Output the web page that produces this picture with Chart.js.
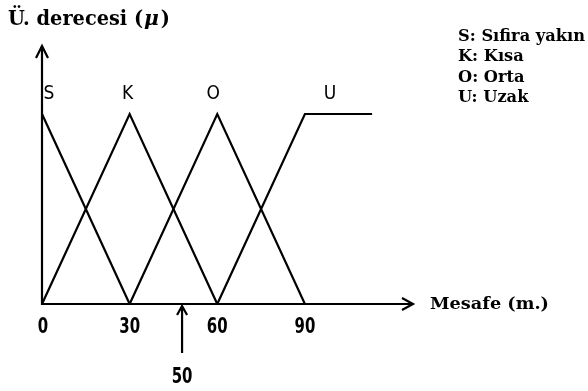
<!DOCTYPE html>
<html><head><meta charset="utf-8">
<script src="https://cdn.jsdelivr.net/npm/chart.js@4.4.1/dist/chart.umd.min.js"></script>
<style>html,body{margin:0;padding:0;background:#fff}#c{display:block}</style>
</head><body>
<canvas id="c" width="588" height="391"></canvas>
<script>
// Data
const xTicks = [0, 30, 60, 90];
const sX = [0, 30],        sY = [1, 0];
const kX = [0, 30, 60],    kY = [0, 1, 0];
const oX = [30, 60, 90],   oY = [0, 1, 0];
const uX = [60, 90, 113],  uY = [0, 1, 1];
const setLetters = ['S', 'K', 'O', 'U'];
const legendLines = ['S: S\u0131fira yak\u0131n', 'K: K\u0131sa', 'O: Orta', 'U: Uzak'];
const markValue = 50;
const xTitle = 'Mesafe (m.)';
const yTitle = '\u00dc. derecesi (';

const toPts = (xs, ys) => xs.map((x, i) => ({x, y: ys[i]}));
const ds = (xs, ys) => ({data: toPts(xs, ys), showLine: true, borderColor: '#000', borderWidth: 2.2,
  pointRadius: 0, fill: false, tension: 0, clip: false});

function condensed(ctx, text, x, y, sx) {
  ctx.save();
  ctx.translate(x, y);
  ctx.scale(sx, 1);
  ctx.fillText(text, 0, 0);
  ctx.restore();
}

const deco = {
  id: 'deco',
  afterDraw(chart) {
    const ctx = chart.ctx, ca = chart.chartArea;
    const xs = chart.scales.x, ys = chart.scales.y;
    const x0 = xs.getPixelForValue(0), y0 = ys.getPixelForValue(0);
    ctx.save();
    ctx.strokeStyle = '#000'; ctx.fillStyle = '#000'; ctx.lineWidth = 2.2; ctx.lineCap = 'butt';
    // axes
    ctx.beginPath();
    ctx.moveTo(x0, ca.top); ctx.lineTo(x0, y0); ctx.lineTo(ca.right, y0);
    ctx.stroke();
    // arrowheads
    ctx.beginPath();
    ctx.moveTo(x0 - 6, ca.top + 12); ctx.lineTo(x0, ca.top); ctx.lineTo(x0 + 6, ca.top + 12);
    ctx.moveTo(ca.right - 11, y0 - 6); ctx.lineTo(ca.right, y0); ctx.lineTo(ca.right - 11, y0 + 6);
    ctx.stroke();
    // mark arrow at 50
    const mx = xs.getPixelForValue(markValue) - 6;
    ctx.beginPath();
    ctx.moveTo(mx, y0 + 49); ctx.lineTo(mx, y0 + 2);
    ctx.moveTo(mx - 5, y0 + 11); ctx.lineTo(mx, y0 + 2); ctx.lineTo(mx + 5, y0 + 11);
    ctx.stroke();
    // tick labels (condensed bold)
    ctx.font = 'bold 22px "DejaVu Sans", sans-serif';
    ctx.textAlign = 'center'; ctx.textBaseline = 'middle';
    xTicks.forEach(v => condensed(ctx, String(v), xs.getPixelForValue(v) + (v === 0 ? 1 : 0), y0 + 23, 0.68));
    condensed(ctx, String(markValue), mx, y0 + 73, 0.68);
    // set letters
    ctx.font = '19px "DejaVu Sans", sans-serif';
    const peaks = [0, 30, 60, 90];
    const offs = [7, -2, -4, 25];
    setLetters.forEach((l, i) => condensed(ctx, l, xs.getPixelForValue(peaks[i]) + offs[i], ys.getPixelForValue(1) - 20, 0.9));
    // x title
    ctx.textAlign = 'left';
    ctx.font = 'bold 17px "DejaVu Serif", serif';
    let tw = ctx.measureText(xTitle).width;
    condensed(ctx, xTitle, ca.right + 17, y0 + 1, 119 / tw);
    // y title
    ctx.font = 'bold 20px "DejaVu Serif", serif';
    let w = ctx.measureText(yTitle).width;
    ctx.font = 'bold italic 21px "DejaVu Serif", serif';
    let w2 = ctx.measureText('\u03bc').width;
    ctx.font = 'bold 20px "DejaVu Serif", serif';
    let w3 = ctx.measureText(')').width;
    const ts = 162 / (w + w2 + w3 + 3);
    ctx.save();
    ctx.translate(8, 20); ctx.scale(ts, 1);
    ctx.fillText(yTitle, 0, 0);
    ctx.font = 'bold italic 21px "DejaVu Serif", serif';
    ctx.fillText('\u03bc', w + 1, 0);
    ctx.font = 'bold 20px "DejaVu Serif", serif';
    ctx.fillText(')', w + w2 + 3, 0);
    ctx.restore();
    // legend
    ctx.font = 'bold 16px "DejaVu Serif", serif';
    const lw = ctx.measureText(legendLines[0]).width;
    const lsx = 127 / lw;
    legendLines.forEach((t, i) => condensed(ctx, t, 458, 37 + i * 20.3, lsx));
    ctx.restore();
  }
};

new Chart(document.getElementById('c'), {
  type: 'scatter',
  data: {datasets: [ds(sX, sY), ds(kX, kY), ds(oX, oY), ds(uX, uY)]},
  options: {
    responsive: false, animation: false, events: [],
    layout: {padding: {left: 42, top: 46, right: 588 - 413, bottom: 391 - 304}},
    plugins: {legend: {display: false}, tooltip: {enabled: false}},
    scales: {
      x: {type: 'linear', min: 0, max: 127, display: false},
      y: {type: 'linear', min: 0, max: 1.358, display: false}
    }
  },
  plugins: [deco]
});
</script>
</body></html>
